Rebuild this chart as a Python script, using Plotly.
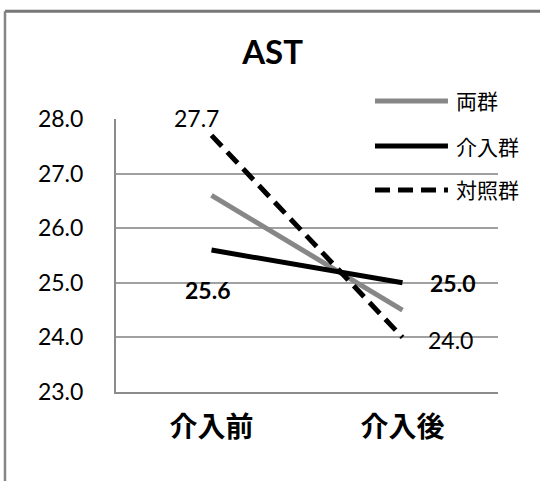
import plotly.graph_objects as go

categories = ["介入前", "介入後"]
series_names = ["両群", "介入群", "対照群"]
both_vals = [26.6, 24.5]
interv_vals = [25.6, 25.0]
control_vals = [27.7, 24.0]
y_ticks = [23.0, 24.0, 25.0, 26.0, 27.0, 28.0]
title_text = "AST"

series_vals = [both_vals, interv_vals, control_vals]
colors = ["#878787", "#000000", "#000000"]
dashes = ["solid", "solid", "15px,8px"]
widths = [5, 5, 5]

FONT = "Lato, 'Noto Sans CJK JP', sans-serif"

fig = go.Figure()
for name, vals, c, d, w in zip(series_names, series_vals, colors, dashes, widths):
    fig.add_trace(go.Scatter(
        x=categories, y=vals, mode="lines", name=name,
        line=dict(color=c, dash=d, width=w),
        showlegend=False, hoverinfo="x+y+name",
    ))

# data labels (as in reference: selected points only)
label_specs = [
    (control_vals, 0, -15, 17, False),
    (interv_vals, 0, -4, -40, True),
    (interv_vals, 1, 50, 0, True),
    (control_vals, 1, 48, -3, False),
]
for vals, i, xs, ys, bold in label_specs:
    txt = f"{vals[i]:.1f}"
    fig.add_annotation(
        x=categories[i], y=vals[i], text=f"<b>{txt}</b>" if bold else txt,
        showarrow=False, xshift=xs, yshift=ys,
        font=dict(family=FONT, size=23, color="#000"),
    )

# manual legend
legend_y = [1.066, 0.901, 0.740]
for name, c, d, w, ly in zip(series_names, colors, dashes, widths, legend_y):
    fig.add_shape(type="line", xref="paper", yref="paper",
                  x0=0.678, x1=0.869, y0=ly, y1=ly,
                  line=dict(color=c, dash=d, width=w))
    fig.add_annotation(xref="paper", yref="paper", x=0.885, y=ly,
                       text=name, showarrow=False, xanchor="left", yanchor="middle",
                       font=dict(family=FONT, size=21, color="#000"))

# outer frame (clipped at right/bottom in reference)
fig.add_shape(type="line", xref="paper", yref="paper",
              x0=-0.2906, x1=1.3, y0=1.395, y1=1.395,
              line=dict(color="#777777", width=3), layer="above")
fig.add_shape(type="line", xref="paper", yref="paper",
              x0=-0.2906, x1=-0.2906, y0=1.395, y1=-0.5,
              line=dict(color="#858585", width=2.5))

fig.update_layout(
    width=540, height=481,
    margin=dict(l=116, r=42, t=119, b=89),
    paper_bgcolor="white", plot_bgcolor="white",
    title=dict(text=f"<b>{title_text}</b>", x=0.41, xref="paper",
               y=1 - 52 / 481, yref="container", xanchor="center", yanchor="middle",
               font=dict(family=FONT, size=33, color="#000")),
    font=dict(family=FONT, color="#000"),
    showlegend=False,
)
fig.update_xaxes(
    type="category", range=[-0.5, 1.5], showgrid=False, showline=True,
    linecolor="#8c8c8c", linewidth=2,
    ticks="", tickfont=dict(family=FONT, size=28, color="#000"),
    ticktext=[f"<b>{c}</b>" for c in categories], tickvals=categories,
    ticklabelstandoff=9, zeroline=False,
)
fig.update_yaxes(
    range=[23.0, 28.0], tickvals=y_ticks, ticktext=[f"{v:.1f}" for v in y_ticks],
    showgrid=True, gridcolor="#a0a0a0", gridwidth=1.5,
    showline=True, linecolor="#8c8c8c", linewidth=2, ticks="",
    tickfont=dict(family=FONT, size=23, color="#000"),
    ticklabelstandoff=26, zeroline=False,
)

fig.write_html("out.html", config={"displayModeBar": False},
               post_script="document.body.style.margin='0';")
